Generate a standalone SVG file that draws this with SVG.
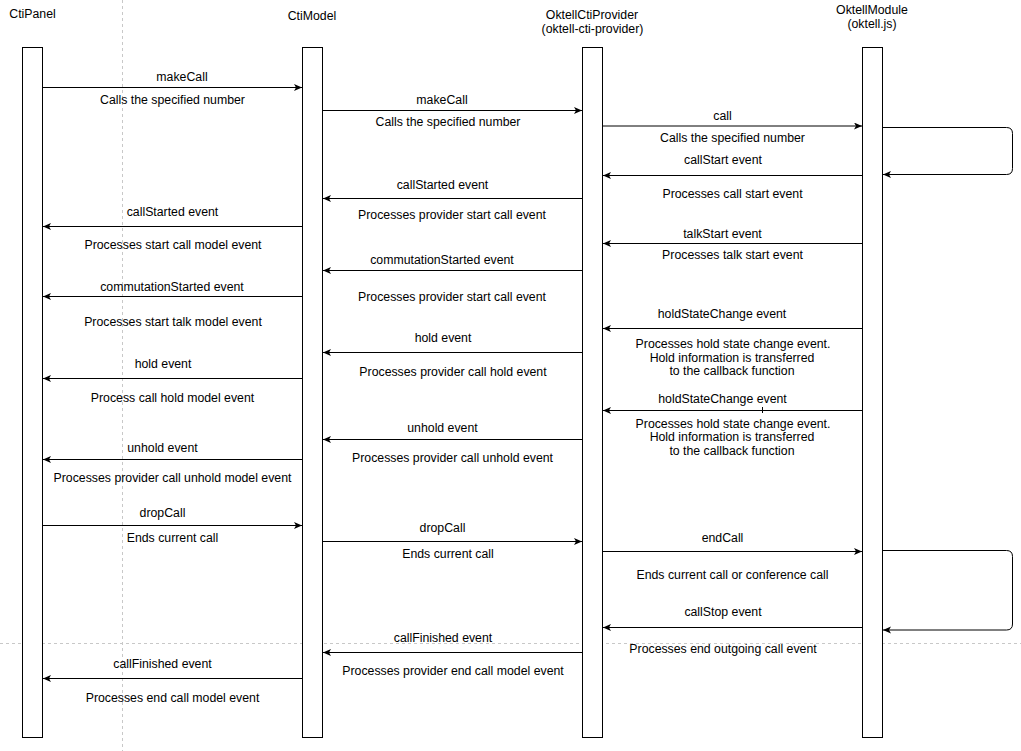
<svg xmlns="http://www.w3.org/2000/svg" width="1021" height="751" viewBox="0 0 1021 751">
<style>
text{font-family:"Liberation Sans",Arial,sans-serif;font-size:12.3px;fill:#000;text-anchor:middle}
.life{fill:#fff;stroke:#000;stroke-width:1}
.msg{fill:none;stroke:#000;stroke-width:1;marker-end:url(#arr)}
.page{stroke:#c8c8c8;stroke-width:1;stroke-dasharray:3,3;fill:none}
</style>
<defs>
<marker id="arr" markerUnits="userSpaceOnUse" markerWidth="9" markerHeight="8" refX="8" refY="3.5" orient="auto">
<path d="M0,0 L8,3.5 L0,7 L2,3.5 Z" fill="#000"/>
</marker>
</defs>
<rect width="1021" height="751" fill="#fff"/>
<g id="page-breaks">
<line class="page" x1="122.5" y1="0" x2="122.5" y2="751"/>
<line class="page" x1="0" y1="643.5" x2="1021" y2="643.5"/>
</g>
<g id="ctipanel">
<text x="32.5" y="17.5">CtiPanel</text>
<rect class="life" x="22.5" y="47.5" width="20" height="690"/>
</g>
<g id="ctimodel">
<text x="312" y="20">CtiModel</text>
<rect class="life" x="302.5" y="47.5" width="20" height="690"/>
</g>
<g id="oktellctiprovider">
<text x="592" y="19">OktellCtiProvider</text>
<text x="592.5" y="32.5">(oktell-cti-provider)</text>
<rect class="life" x="582.5" y="47.5" width="20" height="690"/>
</g>
<g id="oktellmodule">
<text x="872" y="14">OktellModule</text>
<text x="872" y="27.5">(oktell.js)</text>
<rect class="life" x="862.5" y="47.5" width="20" height="690"/>
</g>
<g id="connectors">
<line class="msg" x1="42.5" y1="87.5" x2="302" y2="87.5"/>
<line class="msg" x1="322.5" y1="110.5" x2="582" y2="110.5"/>
<line class="msg" x1="602.5" y1="126" x2="862" y2="126"/>
<path class="msg" d="M882.5,127.5 H1006.5 Q1012.5,127.5 1012.5,133.5 V168.5 Q1012.5,174.5 1006.5,174.5 H883"/>
<line class="msg" x1="862.5" y1="175.5" x2="603" y2="175.5"/>
<line class="msg" x1="582.5" y1="198.5" x2="323" y2="198.5"/>
<line class="msg" x1="302.5" y1="226.5" x2="43" y2="226.5"/>
<line class="msg" x1="862.5" y1="243.5" x2="603" y2="243.5"/>
<line class="msg" x1="582.5" y1="270.5" x2="323" y2="270.5"/>
<line class="msg" x1="302.5" y1="296.5" x2="43" y2="296.5"/>
<line class="msg" x1="862.5" y1="328.5" x2="603" y2="328.5"/>
<line class="msg" x1="582.5" y1="352.5" x2="323" y2="352.5"/>
<line class="msg" x1="302.5" y1="378.5" x2="43" y2="378.5"/>
<line class="msg" x1="862.5" y1="410.5" x2="603" y2="410.5"/>
<line x1="762.5" y1="407" x2="762.5" y2="413" stroke="#000" stroke-width="1"/>
<line class="msg" x1="582.5" y1="439.5" x2="323" y2="439.5"/>
<line class="msg" x1="302.5" y1="459.5" x2="43" y2="459.5"/>
<line class="msg" x1="42.5" y1="525.5" x2="302" y2="525.5"/>
<line class="msg" x1="322.5" y1="541.5" x2="582" y2="541.5"/>
<line class="msg" x1="602.5" y1="551.5" x2="862" y2="551.5"/>
<path class="msg" d="M882.5,550.5 H1006.5 Q1012.5,550.5 1012.5,556.5 V624 Q1012.5,630 1006.5,630 H883"/>
<line class="msg" x1="862.5" y1="627.5" x2="603" y2="627.5"/>
<line class="msg" x1="582.5" y1="652.5" x2="323" y2="652.5"/>
<line class="msg" x1="302.5" y1="678.5" x2="43" y2="678.5"/>
</g>
<g id="labels" transform="translate(0,0.8)">
<text x="182" y="80">makeCall</text>
<text x="172.5" y="103">Calls the specified number</text>
<text x="442" y="103">makeCall</text>
<text x="448" y="125">Calls the specified number</text>
<text x="722.5" y="119">call</text>
<text x="732.5" y="141">Calls the specified number</text>
<text x="723" y="163">callStart event</text>
<text x="732.5" y="197">Processes call start event</text>
<text x="442.5" y="188">callStarted event</text>
<text x="452" y="218">Processes provider start call event</text>
<text x="172.5" y="215">callStarted event</text>
<text x="173" y="248">Processes start call model event</text>
<text x="722.5" y="237">talkStart event</text>
<text x="732.5" y="258">Processes talk start event</text>
<text x="442" y="263">commutationStarted event</text>
<text x="452" y="300">Processes provider start call event</text>
<text x="172" y="290">commutationStarted event</text>
<text x="173" y="325">Processes start talk model event</text>
<text x="722" y="317">holdStateChange event</text>
<text x="733" y="347">Processes hold state change event.</text>
<text x="732" y="361">Hold information is transferred</text>
<text x="732" y="374">to the callback function</text>
<text x="443" y="341">hold event</text>
<text x="453" y="375">Processes provider call hold event</text>
<text x="163" y="367">hold event</text>
<text x="172.5" y="401">Process call hold model event</text>
<text x="722.5" y="402">holdStateChange event</text>
<text x="733" y="427">Processes hold state change event.</text>
<text x="732" y="440">Hold information is transferred</text>
<text x="732" y="454">to the callback function</text>
<text x="442.5" y="431">unhold event</text>
<text x="452.5" y="461">Processes provider call unhold event</text>
<text x="162.5" y="451">unhold event</text>
<text x="172.5" y="481">Processes provider call unhold model event</text>
<text x="162.5" y="516">dropCall</text>
<text x="172.5" y="541">Ends current call</text>
<text x="442.5" y="531">dropCall</text>
<text x="448" y="557">Ends current call</text>
<text x="722.5" y="541">endCall</text>
<text x="732.5" y="578">Ends current call or conference call</text>
<text x="723" y="615">callStop event</text>
<text x="723" y="652">Processes end outgoing call event</text>
<text x="443" y="641">callFinished event</text>
<text x="453" y="674">Processes provider end call model event</text>
<text x="162.5" y="667">callFinished event</text>
<text x="172.5" y="701">Processes end call model event</text>
</g>
</svg>
